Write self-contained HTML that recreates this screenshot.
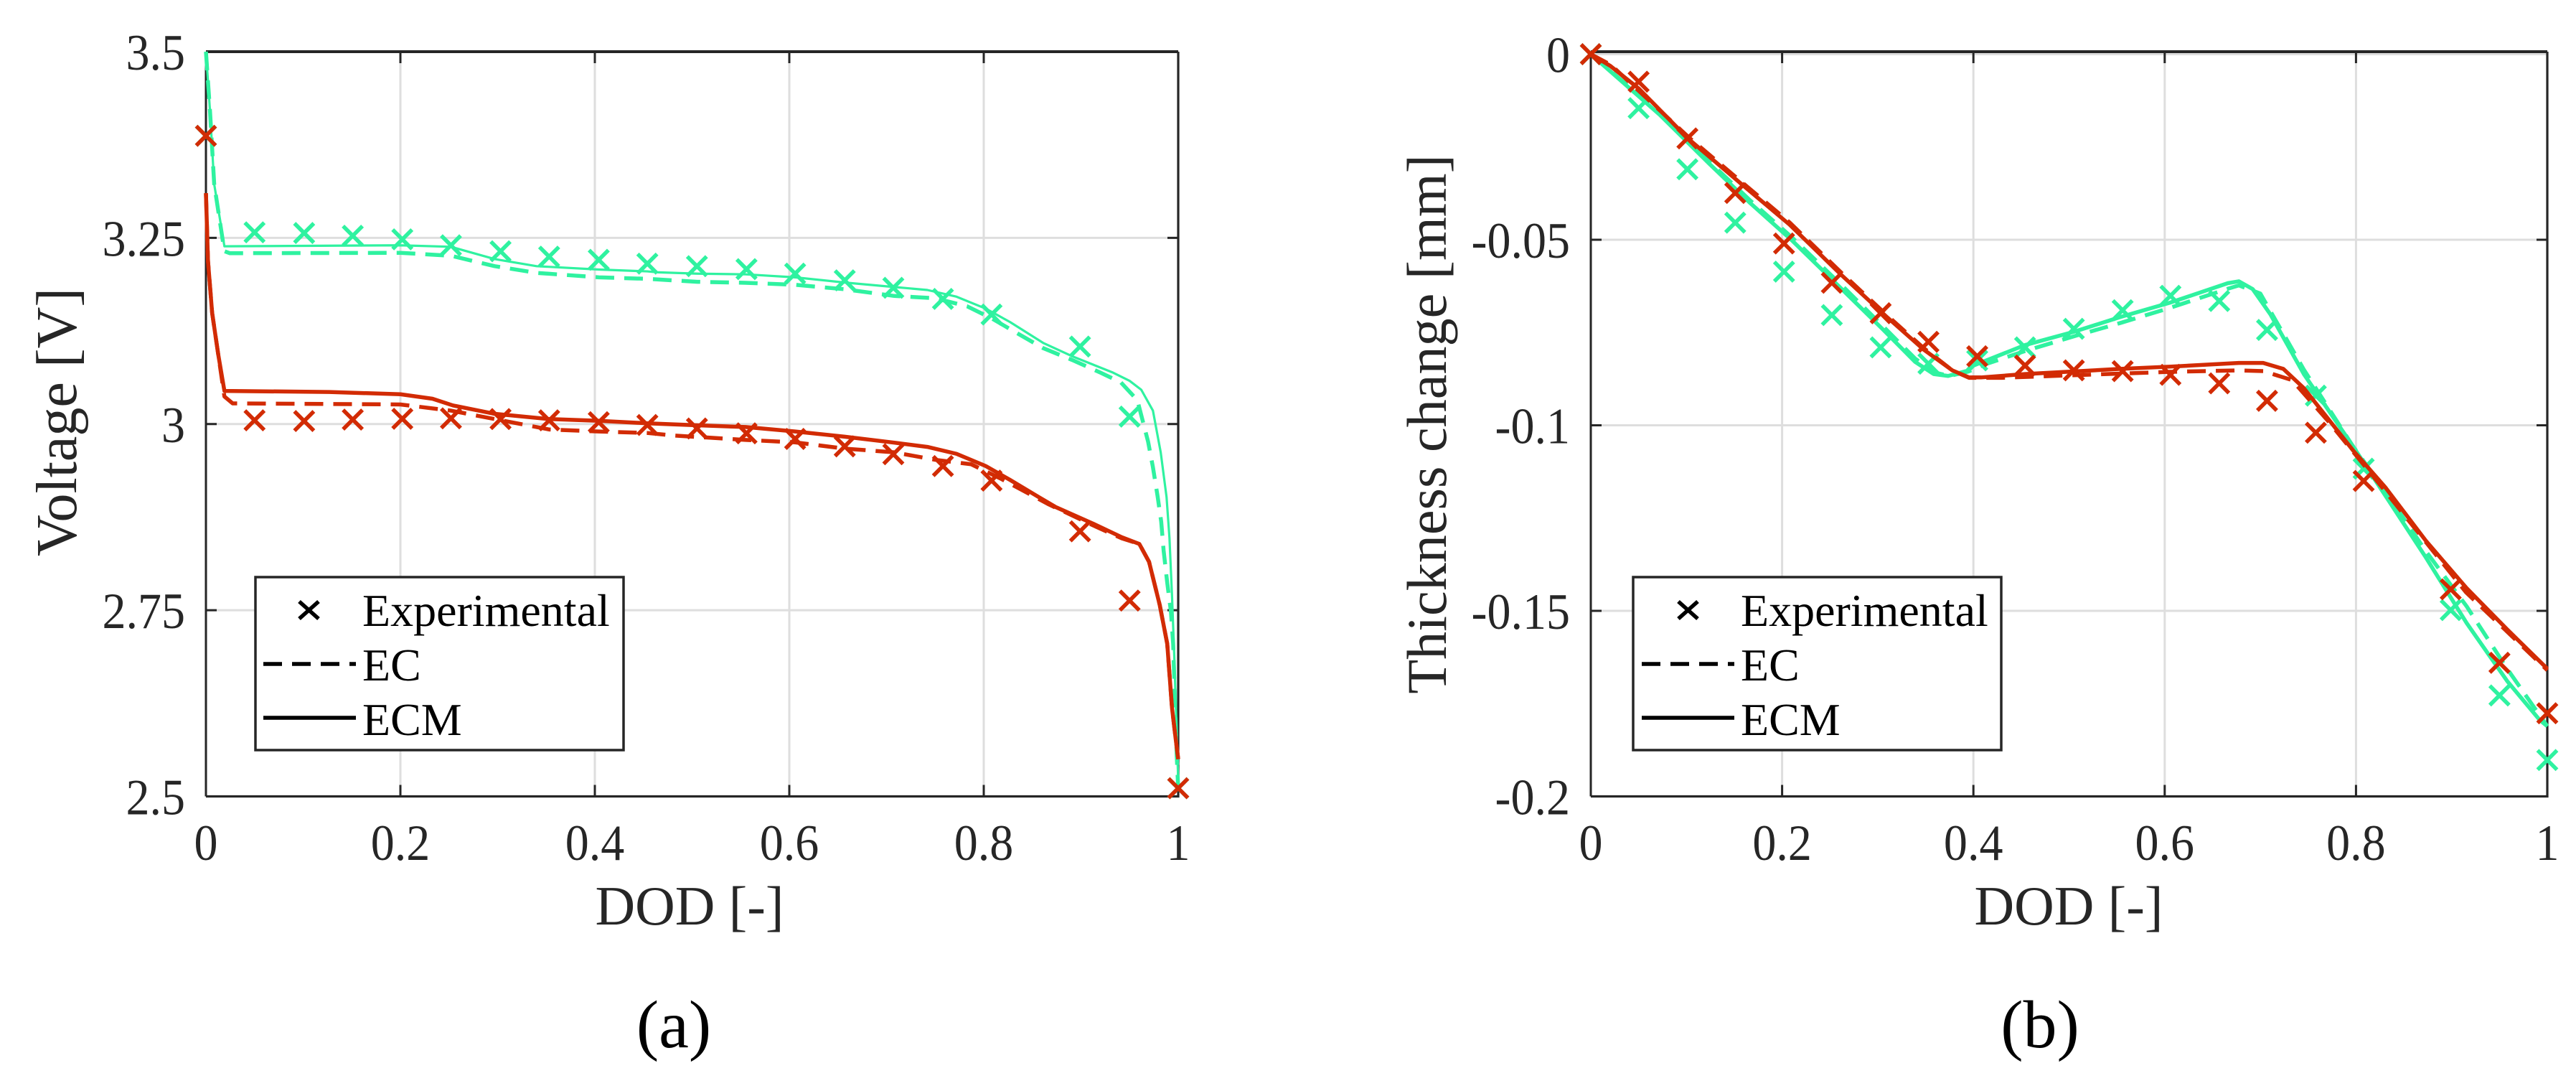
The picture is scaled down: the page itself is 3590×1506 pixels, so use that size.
<!DOCTYPE html>
<html lang="en">
<head>
<meta charset="utf-8">
<title>Voltage and thickness change versus DOD</title>
<style>
html,body{margin:0;padding:0;background:#fff;width:3590px;height:1506px;overflow:hidden}
svg{display:block}
text{font-family:"Liberation Serif","Times New Roman",serif}
</style>
</head>
<body>
<svg id="figure" xmlns="http://www.w3.org/2000/svg" width="3590" height="1506" viewBox="0 0 3590 1506">
  <rect x="0" y="0" width="3590" height="1506" fill="#ffffff"/>
  <g id="plotA"></g>
  <g id="plotB"></g>

  <text transform="translate(106,588) rotate(-90)" font-size="80" text-anchor="middle" fill="#262626">Voltage [V]</text>
  <text transform="translate(2015,591) rotate(-90)" font-size="78.2" text-anchor="middle" fill="#262626">Thickness change [mm]</text>
  <text x="961" y="1288" font-size="77" text-anchor="middle" fill="#262626">DOD [-]</text>
  <text x="2883" y="1288" font-size="77" text-anchor="middle" fill="#262626">DOD [-]</text>
  <text x="939" y="1459" font-size="94" text-anchor="middle" fill="#000000">(a)</text>
  <text x="2843" y="1459" font-size="94" text-anchor="middle" fill="#000000">(b)</text>

  <g>
    <rect x="356" y="804" width="513" height="241" fill="#ffffff" stroke="#262626" stroke-width="3.5"/>
    <path d="M417 838L444 862M444 838L417 862" stroke="#000" stroke-width="5.5" fill="none"/>
    <text x="505" y="872" font-size="64" fill="#000">Experimental</text>
    <line x1="367" y1="925" x2="496" y2="925" stroke="#000" stroke-width="5.5" stroke-dasharray="26 14"/>
    <text x="505" y="948" font-size="64" fill="#000">EC</text>
    <line x1="367" y1="1000" x2="496" y2="1000" stroke="#000" stroke-width="5.5"/>
    <text x="505" y="1024" font-size="64" fill="#000">ECM</text>
  </g>
  <g>
    <rect x="2276" y="804" width="513" height="241" fill="#ffffff" stroke="#262626" stroke-width="3.5"/>
    <path d="M2339 838L2366 862M2366 838L2339 862" stroke="#000" stroke-width="5.5" fill="none"/>
    <text x="2426" y="872" font-size="64" fill="#000">Experimental</text>
    <line x1="2288" y1="925" x2="2417" y2="925" stroke="#000" stroke-width="5.5" stroke-dasharray="26 14"/>
    <text x="2426" y="948" font-size="64" fill="#000">EC</text>
    <line x1="2288" y1="1000" x2="2417" y2="1000" stroke="#000" stroke-width="5.5"/>
    <text x="2426" y="1024" font-size="64" fill="#000">ECM</text>
  </g>
</svg>
<script>
// ---- shared data ----
var dodTickValues = [0, 0.2, 0.4, 0.6, 0.8, 1];
var dodTickLabels = ['0', '0.2', '0.4', '0.6', '0.8', '1'];
var expDod = [0, 0.05, 0.101, 0.151, 0.202, 0.252, 0.303, 0.353, 0.404, 0.454, 0.505, 0.556, 0.606, 0.657, 0.707, 0.758, 0.808, 0.899, 0.95, 1];

// ---- panel (a): voltage ----
var voltageTickValues = [2.5, 2.75, 3, 3.25, 3.5];
var voltageTickLabels = ['2.5', '2.75', '3', '3.25', '3.5'];
var voltageExpGreen = [3.387, 3.2574, 3.2565, 3.2528, 3.248, 3.24, 3.232, 3.2248, 3.2205, 3.2154, 3.212, 3.208, 3.202, 3.193, 3.183, 3.168, 3.147, 3.104, 3.01, 2.511];
var voltageExpRed = [3.387, 3.005, 3.004, 3.006, 3.007, 3.0076, 3.0067, 3.005, 3.0025, 2.9987, 2.994, 2.9875, 2.98, 2.97, 2.9595, 2.9436, 2.924, 2.856, 2.763, 2.511];

var voltageGreenEcDod = [0, 0.0042, 0.0085, 0.019, 0.0246, 0.2, 0.252, 0.297, 0.34, 0.404, 0.454, 0.5055, 0.555, 0.606, 0.657, 0.708, 0.75, 0.783, 0.808, 0.833, 0.861, 0.891, 0.92, 0.941, 0.958, 0.969, 0.974, 0.9788, 0.9825, 0.985, 0.9887, 0.9925, 0.9948, 0.9985, 1];
var voltageGreenEcV = [3.5, 3.42, 3.322, 3.232, 3.2294, 3.2299, 3.226, 3.212, 3.203, 3.197, 3.195, 3.191, 3.1897, 3.187, 3.181, 3.172, 3.169, 3.158, 3.142, 3.123, 3.102, 3.086, 3.069, 3.056, 3.032, 2.9765, 2.942, 2.903, 2.869, 2.83, 2.787, 2.748, 2.705, 2.554, 2.51];
var voltageGreenEcmDod = [0, 0.0042, 0.0085, 0.019, 0.2, 0.252, 0.297, 0.34, 0.404, 0.454, 0.465, 0.5055, 0.555, 0.606, 0.657, 0.708, 0.742, 0.772, 0.802, 0.827, 0.861, 0.891, 0.933, 0.95, 0.962, 0.974, 0.982, 0.988, 0.991, 0.9936, 0.9961, 0.9997, 1];
var voltageGreenEcmV = [3.5, 3.42, 3.322, 3.2387, 3.24, 3.238, 3.2215, 3.212, 3.2075, 3.205, 3.2037, 3.2019, 3.201, 3.197, 3.19, 3.184, 3.18, 3.171, 3.155, 3.137, 3.109, 3.091, 3.069, 3.058, 3.046, 3.018, 2.962, 2.902, 2.847, 2.77, 2.683, 2.533, 2.51];

var voltageRedEcDod = [0, 0.0021, 0.0064, 0.0127, 0.019, 0.0275, 0.2, 0.252, 0.297, 0.353, 0.404, 0.454, 0.48, 0.555, 0.606, 0.657, 0.708, 0.75, 0.787, 0.817, 0.867, 0.912, 0.942, 0.96, 0.97, 0.981, 0.9887, 0.9936, 0.9975, 1];
var voltageRedEcV = [3.31, 3.219, 3.149, 3.093, 3.037, 3.0277, 3.0263, 3.018, 3.0067, 2.9927, 2.99, 2.988, 2.9847, 2.9787, 2.9754, 2.967, 2.962, 2.952, 2.946, 2.927, 2.892, 2.8642, 2.8465, 2.839, 2.815, 2.757, 2.705, 2.619, 2.576, 2.55];
var voltageRedEcmDod = [0, 0.0021, 0.0064, 0.0127, 0.019, 0.127, 0.2, 0.233, 0.254, 0.297, 0.353, 0.404, 0.454, 0.5055, 0.555, 0.606, 0.657, 0.708, 0.742, 0.772, 0.802, 0.827, 0.857, 0.874, 0.912, 0.942, 0.96, 0.97, 0.981, 0.9887, 0.9936, 0.9975, 1];
var voltageRedEcmV = [3.31, 3.219, 3.149, 3.093, 3.0445, 3.043, 3.04, 3.034, 3.025, 3.0137, 3.0067, 3.0043, 3.001, 2.9983, 2.996, 2.99, 2.983, 2.975, 2.9693, 2.96, 2.9436, 2.925, 2.9016, 2.8885, 2.8665, 2.848, 2.839, 2.815, 2.757, 2.705, 2.619, 2.576, 2.55];

// ---- panel (b): thickness ----
var thicknessTickValues = [-0.2, -0.15, -0.1, -0.05, 0];
var thicknessTickLabels = ['-0.2', '-0.15', '-0.1', '-0.05', '0'];
var thicknessExpGreen = [0, -0.01455, -0.031, -0.0454, -0.0586, -0.0703, -0.079, -0.0834, -0.0825, -0.079, -0.074, -0.069, -0.0651, -0.0665, -0.0743, -0.092, -0.1117, -0.1498, -0.1728, -0.1902];
var thicknessExpRed = [0, -0.0074, -0.0227, -0.0374, -0.051, -0.0616, -0.0698, -0.0775, -0.0814, -0.0839, -0.0852, -0.0854, -0.0864, -0.0887, -0.0934, -0.102, -0.115, -0.1442, -0.164, -0.1776];

var thicknessGreenEcDod = [0, 0.072, 0.124, 0.167, 0.21, 0.262, 0.305, 0.339, 0.36, 0.375, 0.395, 0.412, 0.4538, 0.508, 0.554, 0.605, 0.666, 0.6775, 0.7, 0.7455, 0.7967, 0.8306, 0.873, 0.9157, 0.958, 1];
var thicknessGreenEcT = [0, -0.0158, -0.029, -0.0395, -0.0493, -0.0622, -0.0732, -0.082, -0.0858, -0.0867, -0.0855, -0.0836, -0.08, -0.0758, -0.0724, -0.0684, -0.0632, -0.0623, -0.0645, -0.085, -0.1056, -0.1178, -0.1339, -0.1488, -0.1656, -0.1811];
var thicknessGreenEcmDod = [0, 0.072, 0.1238, 0.167, 0.21, 0.262, 0.3047, 0.339, 0.3586, 0.3736, 0.395, 0.4, 0.4538, 0.505, 0.554, 0.605, 0.666, 0.6775, 0.692, 0.7105, 0.7455, 0.7967, 0.8306, 0.873, 0.9157, 0.958, 0.992, 1];
var thicknessGreenEcmT = [0, -0.0163, -0.0295, -0.0402, -0.0501, -0.0632, -0.074, -0.0829, -0.0862, -0.0867, -0.0852, -0.0839, -0.0784, -0.0748, -0.0708, -0.067, -0.0617, -0.0612, -0.0633, -0.0701, -0.0862, -0.1056, -0.1189, -0.1356, -0.1533, -0.1689, -0.1794, -0.1811];

var thicknessRedEcDod = [0, 0.0206, 0.1024, 0.158, 0.2077, 0.262, 0.309, 0.348, 0.378, 0.3955, 0.43, 0.505, 0.605, 0.6775, 0.703, 0.733, 0.771, 0.83, 0.915, 0.992, 1];
var thicknessRedEcT = [0, -0.0028, -0.0224, -0.0345, -0.0453, -0.0589, -0.0702, -0.0792, -0.0852, -0.0872, -0.0872, -0.0865, -0.0856, -0.0852, -0.0854, -0.0878, -0.0989, -0.1176, -0.145, -0.164, -0.166];
var thicknessRedEcmDod = [0, 0.0206, 0.0503, 0.1024, 0.158, 0.2077, 0.262, 0.309, 0.348, 0.378, 0.3955, 0.408, 0.4538, 0.554, 0.605, 0.6775, 0.703, 0.724, 0.7455, 0.771, 0.7967, 0.8306, 0.873, 0.9157, 0.958, 1];
var thicknessRedEcmT = [0, -0.0032, -0.0093, -0.0229, -0.0351, -0.0459, -0.0595, -0.0707, -0.0796, -0.0852, -0.0871, -0.0871, -0.0862, -0.0848, -0.0842, -0.0832, -0.0832, -0.0848, -0.09, -0.0983, -0.1067, -0.1167, -0.1311, -0.1439, -0.155, -0.1656];

// ---- drawing helpers ----
var NS = 'http://www.w3.org/2000/svg';
var GREEN = '#2ff2a0';
var RED = '#d22b04';
var AXIS = '#262626';
var GRID = '#dedede';

function make(tag, parent, attrs) {
  var el = document.createElementNS(NS, tag);
  for (var k in attrs) { el.setAttribute(k, attrs[k]); }
  parent.appendChild(el);
  return el;
}

function linearScale(domainLow, domainHigh, rangeLow, rangeHigh) {
  return function (v) {
    return rangeLow + (v - domainLow) / (domainHigh - domainLow) * (rangeHigh - rangeLow);
  };
}

function drawCurve(group, sx, sy, xs, ys, color, width, dashed, name) {
  var d = '';
  for (var i = 0; i < xs.length; i++) {
    d += (i ? 'L' : 'M') + sx(xs[i]).toFixed(2) + ' ' + sy(ys[i]).toFixed(2);
  }
  var el = make('path', group, {d: d, fill: 'none', stroke: color, 'stroke-width': width, 'stroke-linejoin': 'round'});
  if (dashed) { el.setAttribute('stroke-dasharray', '26 14'); }
  
  
}

function drawMarkers(group, sx, sy, xs, ys, color, name) {
  var d = '';
  var r = 13.5;
  for (var i = 0; i < xs.length; i++) {
    var cx = sx(xs[i]);
    var cy = sy(ys[i]);
    d += 'M' + (cx - r).toFixed(2) + ' ' + (cy - r).toFixed(2) + 'L' + (cx + r).toFixed(2) + ' ' + (cy + r).toFixed(2);
    d += 'M' + (cx + r).toFixed(2) + ' ' + (cy - r).toFixed(2) + 'L' + (cx - r).toFixed(2) + ' ' + (cy + r).toFixed(2);
  }
  var el = make('path', group, {d: d, fill: 'none', stroke: color, 'stroke-width': 5.5});
  
  
}

function drawAxes(group, box, sx, sy, yTicks, yLabels, xTicks, xLabels) {
  var i, el;
  var gridGroup = make('g', group, {stroke: GRID, 'stroke-width': 3, fill: 'none'});
  
  
  for (i = 1; i < xTicks.length - 1; i++) {
    make('line', gridGroup, {x1: sx(xTicks[i]), x2: sx(xTicks[i]), y1: box.top, y2: box.bottom});
  }
  for (i = 0; i < yTicks.length; i++) {
    make('line', gridGroup, {x1: box.left, x2: box.right, y1: sy(yTicks[i]), y2: sy(yTicks[i])});
  }
  var tickGroup = make('g', group, {stroke: AXIS, 'stroke-width': 3, fill: 'none'});
  
  
  for (i = 1; i < xTicks.length - 1; i++) {
    make('line', tickGroup, {x1: sx(xTicks[i]), x2: sx(xTicks[i]), y1: box.bottom, y2: box.bottom - 16});
    make('line', tickGroup, {x1: sx(xTicks[i]), x2: sx(xTicks[i]), y1: box.top, y2: box.top + 16});
  }
  for (i = 0; i < yTicks.length; i++) {
    if (Math.abs(sy(yTicks[i]) - box.bottom) < 5 || Math.abs(sy(yTicks[i]) - box.top) < 5) { continue; }
    make('line', tickGroup, {x1: box.left, x2: box.left + 15, y1: sy(yTicks[i]), y2: sy(yTicks[i])});
    make('line', tickGroup, {x1: box.right, x2: box.right - 15, y1: sy(yTicks[i]), y2: sy(yTicks[i])});
  }
  el = make('path', group, {
    d: 'M' + box.left + ' ' + box.bottom + 'L' + box.right + ' ' + box.bottom + 'L' + box.right + ' ' + box.top,
    fill: 'none', stroke: AXIS, 'stroke-width': 3.2
  });
  
  
  el = make('line', group, {x1: box.left, x2: box.left, y1: box.top, y2: box.bottom, stroke: AXIS, 'stroke-width': 3});
  
  
  el = make('line', group, {x1: box.left, x2: box.right, y1: box.top, y2: box.top, stroke: AXIS, 'stroke-width': 4});
  
  
  for (i = 0; i < yLabels.length; i++) {
    el = make('text', group, {
      transform: 'translate(' + (box.left - 29) + ',' + (sy(yTicks[i]) + 25).toFixed(1) + ') scale(0.93,1)',
      'font-size': 71, 'text-anchor': 'end', fill: AXIS
    });
    el.textContent = yLabels[i];
    
    
  }
  for (i = 0; i < xLabels.length; i++) {
    el = make('text', group, {
      transform: 'translate(' + sx(xTicks[i]).toFixed(1) + ',1198) scale(0.93,1)',
      'font-size': 71, 'text-anchor': 'middle', fill: AXIS
    });
    el.textContent = xLabels[i];
    
    
  }
}

// ---- panel (a) ----
(function () {
  var g = document.getElementById('plotA');
  var box = {left: 287, right: 1642, top: 72, bottom: 1109.5};
  var sx = linearScale(0, 1, box.left, box.right);
  var sy = linearScale(2.5, 3.5, box.bottom, box.top);
  drawAxes(g, box, sx, sy, voltageTickValues, voltageTickLabels, dodTickValues, dodTickLabels);
  drawMarkers(g, sx, sy, expDod, voltageExpGreen, GREEN, 'voltage-experimental-green');
  drawCurve(g, sx, sy, voltageGreenEcDod, voltageGreenEcV, GREEN, 5.5, true, 'voltage-ec-green');
  drawCurve(g, sx, sy, voltageGreenEcmDod, voltageGreenEcmV, GREEN, 3.2, false, 'voltage-ecm-green');
  drawMarkers(g, sx, sy, expDod, voltageExpRed, RED, 'voltage-experimental-red');
  drawCurve(g, sx, sy, voltageRedEcDod, voltageRedEcV, RED, 5.5, true, 'voltage-ec-red');
  drawCurve(g, sx, sy, voltageRedEcmDod, voltageRedEcmV, RED, 5.5, false, 'voltage-ecm-red');
})();

// ---- panel (b) ----
(function () {
  var g = document.getElementById('plotB');
  var box = {left: 2217, right: 3550, top: 72, bottom: 1109.5};
  var sx = linearScale(0, 1, box.left, box.right);
  var sy = linearScale(-0.2, 0, box.bottom, 75.5);
  drawAxes(g, box, sx, sy, thicknessTickValues, thicknessTickLabels, dodTickValues, dodTickLabels);
  drawMarkers(g, sx, sy, expDod, thicknessExpGreen, GREEN, 'thickness-experimental-green');
  drawCurve(g, sx, sy, thicknessGreenEcDod, thicknessGreenEcT, GREEN, 5.5, true, 'thickness-ec-green');
  drawCurve(g, sx, sy, thicknessGreenEcmDod, thicknessGreenEcmT, GREEN, 5.5, false, 'thickness-ecm-green');
  drawMarkers(g, sx, sy, expDod, thicknessExpRed, RED, 'thickness-experimental-red');
  drawCurve(g, sx, sy, thicknessRedEcDod, thicknessRedEcT, RED, 5.5, true, 'thickness-ec-red');
  drawCurve(g, sx, sy, thicknessRedEcmDod, thicknessRedEcmT, RED, 5.5, false, 'thickness-ecm-red');
})();
</script>
</body>
</html>
